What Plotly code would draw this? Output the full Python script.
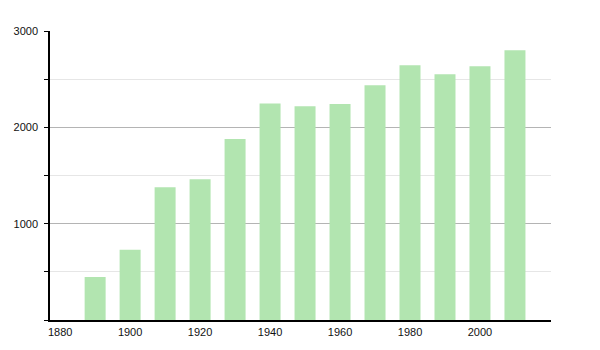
import plotly.graph_objects as go

years = [1890, 1900, 1910, 1920, 1930, 1940, 1950, 1960, 1970, 1980, 1990, 2000, 2010]
population = [447, 730, 1379, 1462, 1879, 2248, 2220, 2241, 2438, 2645, 2551, 2634, 2800]
x_ticks = [1880, 1900, 1920, 1940, 1960, 1980, 2000]
y_ticks = [1000, 2000, 3000]

fig = go.Figure()
fig.add_trace(go.Bar(
    x=years, y=population, width=6,
    marker=dict(color="#b2e5b0", line=dict(width=0)),
))

fig.update_layout(
    width=600, height=350,
    margin=dict(l=50, r=49, t=31, b=30),
    paper_bgcolor="white", plot_bgcolor="white",
    showlegend=False,
    font=dict(family="Liberation Sans, Arial, sans-serif", size=11, color="#111111"),
    xaxis=dict(
        range=[1877.1, 2020.3], tickvals=x_ticks, ticktext=[str(v) for v in x_ticks],
        showgrid=False, showline=True, linecolor="black", linewidth=1.5,
        ticks="", zeroline=False, tickfont=dict(size=11, color="#111111"),
        ticklabelstandoff=1,
    ),
    yaxis=dict(
        range=[0, 3000], tickvals=y_ticks, ticktext=[str(v) for v in y_ticks],
        showgrid=True, gridcolor="#b4b4b4", gridwidth=1,
        showline=True, linecolor="black", linewidth=1.5,
        ticks="outside", ticklen=4, tickcolor="black",
        zeroline=False, tickfont=dict(size=11, color="#111111"),
        ticklabelstandoff=4,
        minor=dict(dtick=500, tick0=0, showgrid=True, gridcolor="#e6e6e6",
                   ticks="outside", ticklen=4, tickcolor="black"),
    ),
)

fig.write_html("out.html")
